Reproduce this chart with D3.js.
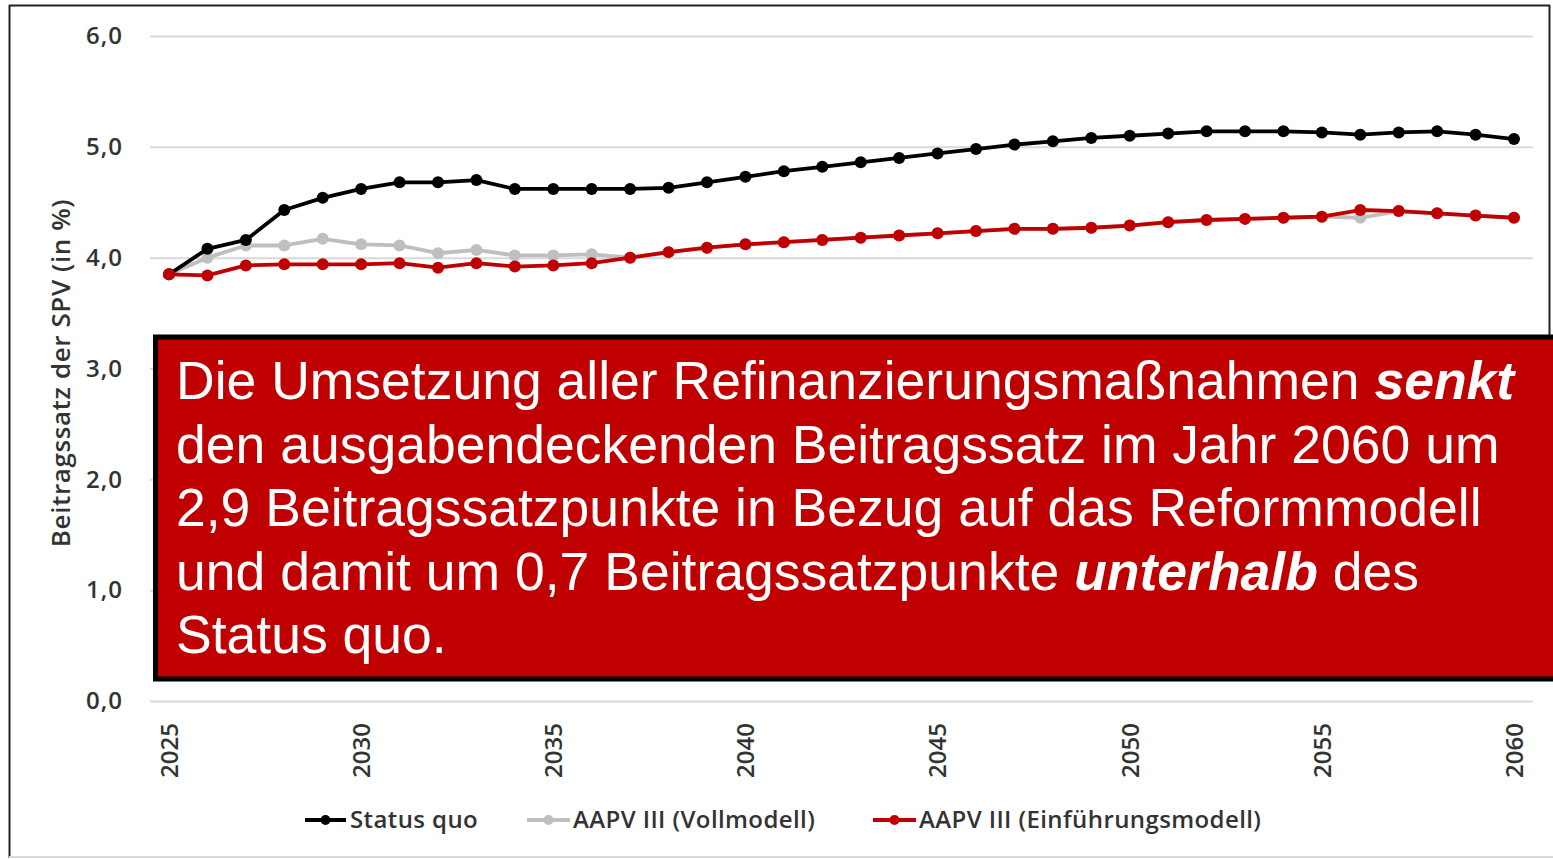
<!DOCTYPE html>
<html>
<head>
<meta charset="utf-8">
<script src="https://cdn.jsdelivr.net/npm/d3@7/dist/d3.min.js"></script>
<style>
  html, body { margin: 0; padding: 0; background: #fff; }
  svg { display: block; }
</style>
</head>
<body>
<svg id="chart" width="1553" height="859"></svg>
<script>
const years = d3.range(2025, 2061);
const statusQuo = [3.85, 4.08, 4.16, 4.43, 4.54, 4.62, 4.68, 4.68, 4.70, 4.62, 4.62, 4.62, 4.62, 4.63, 4.68, 4.73, 4.78, 4.82, 4.86, 4.90, 4.94, 4.98, 5.02, 5.05, 5.08, 5.10, 5.12, 5.14, 5.14, 5.14, 5.13, 5.11, 5.13, 5.14, 5.11, 5.07];
const vollmodell = [3.85, 4.00, 4.11, 4.11, 4.17, 4.12, 4.11, 4.04, 4.07, 4.02, 4.02, 4.03, 4.00, 4.05, 4.09, 4.12, 4.14, 4.16, 4.18, 4.20, 4.22, 4.24, 4.26, 4.26, 4.27, 4.29, 4.32, 4.34, 4.35, 4.36, 4.37, 4.36, 4.42, 4.40, 4.38, 4.36];
const einfuehrung = [3.85, 3.84, 3.93, 3.94, 3.94, 3.94, 3.95, 3.91, 3.95, 3.92, 3.93, 3.95, 4.00, 4.05, 4.09, 4.12, 4.14, 4.16, 4.18, 4.20, 4.22, 4.24, 4.26, 4.26, 4.27, 4.29, 4.32, 4.34, 4.35, 4.36, 4.37, 4.43, 4.42, 4.40, 4.38, 4.36];
const seriesNames = ["Status quo", "AAPV III (Vollmodell)", "AAPV III (Einführungsmodell)"];
const seriesColors = ["#000000", "#bfbfbf", "#c00000"];
const yTicks = [0, 1, 2, 3, 4, 5, 6];
const xTicks = [2025, 2030, 2035, 2040, 2045, 2050, 2055, 2060];
const yAxisTitle = "Beitragssatz der SPV (in %)";
const boxLines = [
  [["Die Umsetzung aller Refinanzierungsmaßnahmen ", false], ["senkt", true]],
  [["den ausgabendeckenden Beitragssatz im Jahr 2060 um", false]],
  [["2,9 Beitragssatzpunkte in Bezug auf das Reformmodell", false]],
  [["und damit um 0,7 Beitragssatzpunkte ", false], ["unterhalb", true], [" des", false]],
  [["Status quo.", false]]
];

const svg = d3.select("#chart");
const x = d3.scaleLinear().domain([2025, 2060]).range([169, 1514]);
const y = d3.scaleLinear().domain([0, 6]).range([701, 36]);
const axisFont = "'Open Sans', 'Noto Sans', sans-serif";
const axisColor = "#333333";

// outer frame
svg.append("line").attr("x1", 9.5).attr("x2", 9.5).attr("y1", 5).attr("y2", 858).attr("stroke", "#222").attr("stroke-width", 2);
svg.append("line").attr("x1", 9).attr("x2", 1550).attr("y1", 5.5).attr("y2", 5.5).attr("stroke", "#222").attr("stroke-width", 2);
svg.append("line").attr("x1", 1549.5).attr("x2", 1549.5).attr("y1", 5).attr("y2", 335).attr("stroke", "#222").attr("stroke-width", 2);
svg.append("line").attr("x1", 9).attr("x2", 1553).attr("y1", 857).attr("y2", 857).attr("stroke", "#d9d9d9").attr("stroke-width", 2);

// gridlines + y tick labels
const yAxis = d3.axisLeft(y).tickValues(yTicks).tickSize(-(1533 - 150)).tickFormat(d => d3.format(".1f")(d).replace(".", ","));
const gy = svg.append("g").attr("transform", "translate(150,0)").call(yAxis);
gy.select(".domain").remove();
gy.selectAll(".tick line").attr("stroke", "#d9d9d9").attr("stroke-width", 2);
gy.selectAll(".tick text").attr("x", -27).attr("font-family", axisFont).attr("font-size", 24)
  .attr("font-weight", 600).attr("letter-spacing", 1).attr("fill", axisColor);

// x axis labels
const xAxis = d3.axisBottom(x).tickValues(xTicks).tickSize(0).tickFormat(d3.format("d"));
const gx = svg.append("g").attr("transform", "translate(0,701)").call(xAxis);
gx.select(".domain").remove();
gx.selectAll(".tick text")
  .attr("font-family", axisFont).attr("font-size", 24).attr("font-weight", 600).attr("fill", axisColor)
  .attr("text-anchor", "end").attr("transform", "rotate(-90)")
  .attr("x", -22).attr("y", 0).attr("dy", "0.35em");

// y axis title
svg.append("text")
  .attr("transform", "translate(70,373) rotate(-90)")
  .attr("text-anchor", "middle")
  .attr("font-family", axisFont).attr("font-size", 26).attr("font-weight", 600)
  .attr("letter-spacing", 0.6).attr("fill", axisColor)
  .text(yAxisTitle);

// series
const allSeries = [statusQuo, vollmodell, einfuehrung];
const drawOrder = [1, 0, 2];
const line = d3.line().x((d, i) => x(years[i])).y(d => y(d));
drawOrder.forEach(si => {
  const g = svg.append("g");
  g.append("path").datum(allSeries[si]).attr("d", line)
    .attr("fill", "none").attr("stroke", seriesColors[si]).attr("stroke-width", 3.8).attr("stroke-linejoin", "round");
  g.selectAll("circle").data(allSeries[si]).join("circle")
    .attr("cx", (d, i) => x(years[i])).attr("cy", d => y(d)).attr("r", 6)
    .attr("fill", seriesColors[si]);
});

// legend
const legendItems = [
  { x0: 305, x1: 346, tx: 350 },
  { x0: 527, x1: 570, tx: 573 },
  { x0: 873, x1: 916, tx: 919 }
];
const lg = svg.append("g");
legendItems.forEach((it, i) => {
  lg.append("line").attr("x1", it.x0).attr("x2", it.x1).attr("y1", 820).attr("y2", 820)
    .attr("stroke", seriesColors[i]).attr("stroke-width", 3.8);
  lg.append("circle").attr("cx", (it.x0 + it.x1) / 2).attr("cy", 820).attr("r", 5).attr("fill", seriesColors[i]);
  lg.append("text").attr("x", it.tx).attr("y", 820).attr("dy", "0.35em")
    .attr("font-family", axisFont).attr("font-size", 24).attr("font-weight", 600)
    .attr("letter-spacing", 0.4).attr("fill", axisColor)
    .text(seriesNames[i]);
});

// annotation box
svg.append("rect").attr("x", 155.5).attr("y", 337).attr("width", 1420).attr("height", 342)
  .attr("fill", "#c00000").attr("stroke", "#000").attr("stroke-width", 5);
const t = svg.append("text").attr("font-family", "'Liberation Sans', Arial, sans-serif")
  .attr("font-size", 53.5).attr("fill", "#fff");
boxLines.forEach((ln, li) => {
  ln.forEach((seg, si) => {
    const ts = t.append("tspan").text(seg[0]);
    if (si === 0) ts.attr("x", 176).attr("y", 399 + li * 63.5);
    if (seg[1]) ts.attr("font-weight", "bold").attr("font-style", "italic");
  });
});
</script>
</body>
</html>
